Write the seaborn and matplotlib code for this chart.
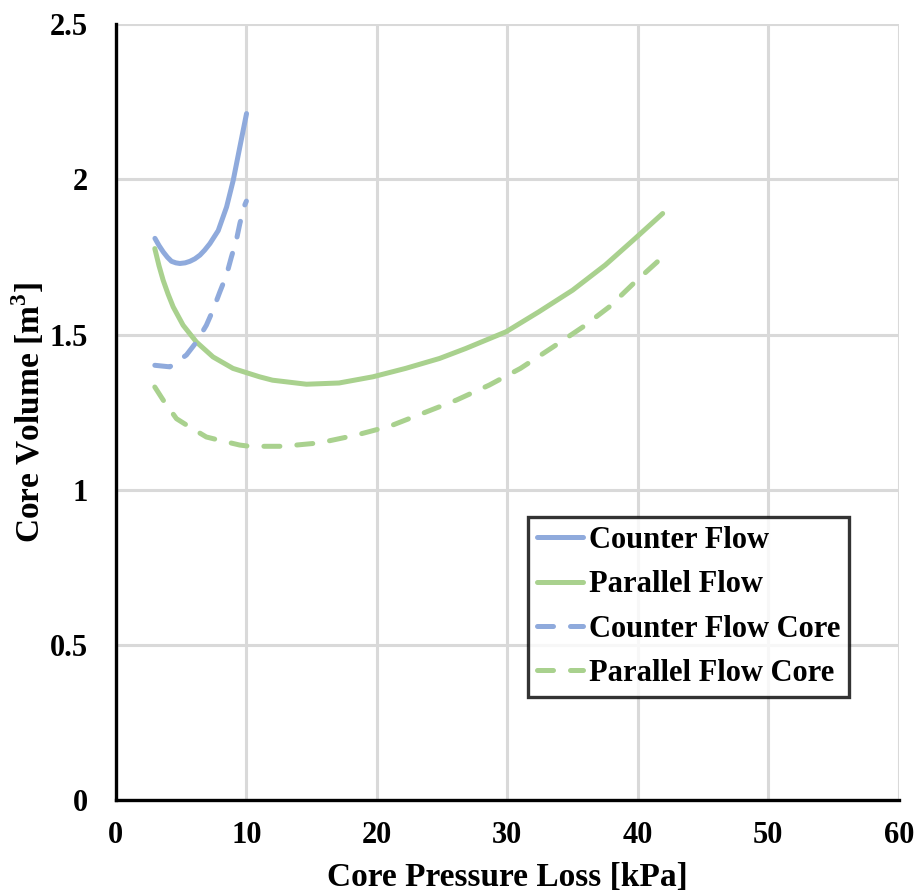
import matplotlib
matplotlib.use("Agg")
import matplotlib.pyplot as plt
import seaborn as sns
import pandas as pd

# Data
cf_x = [2.99, 3.30, 3.63, 3.95, 4.26, 4.60, 4.90, 5.30, 5.67, 6.05, 6.44, 6.80, 7.20, 7.84, 8.48, 8.99, 9.50, 10.01]
cf_y = [1.810, 1.787, 1.766, 1.749, 1.736, 1.731, 1.729, 1.731, 1.736, 1.744, 1.756, 1.772, 1.793, 1.835, 1.911, 1.997, 2.105, 2.212]

pf_x = [2.98, 3.30, 3.62, 4.00, 4.39, 5.15, 6.17, 7.44, 8.97, 11.0, 12.0, 14.6, 17.1, 19.7, 22.2,
        24.8, 26.8, 29.9, 32.4, 35.0, 37.5, 39.8, 41.9]
pf_y = [1.777, 1.722, 1.675, 1.630, 1.589, 1.530, 1.476, 1.428, 1.391, 1.364, 1.353, 1.340, 1.344, 1.364, 1.391,
        1.423, 1.455, 1.509, 1.573, 1.643, 1.724, 1.810, 1.890]

cfc_x = [2.98, 4.13, 5.40, 6.17, 6.93, 7.44, 7.96, 8.47, 8.85, 9.23, 9.50, 9.87, 10.0]
cfc_y = [1.401, 1.396, 1.434, 1.476, 1.530, 1.579, 1.637, 1.691, 1.750, 1.804, 1.858, 1.917, 1.93]

pfc_x = [2.98, 3.62, 4.64, 5.66, 6.93, 8.08, 9.49, 10.25, 12.8, 15.6, 18.4, 21.0, 23.8,
         26.1, 28.6, 31.0, 33.5, 35.8, 37.8, 39.8, 41.9]
pfc_y = [1.331, 1.289, 1.229, 1.202, 1.170, 1.158, 1.144, 1.140, 1.140, 1.151, 1.176, 1.205, 1.251,
         1.289, 1.337, 1.391, 1.460, 1.525, 1.589, 1.670, 1.750]

series_names = ["Counter Flow", "Parallel Flow", "Counter Flow Core", "Parallel Flow Core"]

x_ticks = [0, 10, 20, 30, 40, 50, 60]
y_ticks = [0, 0.5, 1, 1.5, 2, 2.5]
y_tick_labels = ["0", "0.5", "1", "1.5", "2", "2.5"]

frames = []
for name, xs, ys in zip(series_names, [cf_x, pf_x, cfc_x, pfc_x], [cf_y, pf_y, cfc_y, pfc_y]):
    frames.append(pd.DataFrame({"x": xs, "y": ys, "series": name}))
df = pd.concat(frames, ignore_index=True)

sns.set_style("white")
plt.rcParams['font.family'] = ['Liberation Serif', 'DejaVu Serif']
plt.rcParams['font.weight'] = 'bold'
plt.rcParams['text.color'] = 'black'
plt.rcParams['axes.labelcolor'] = 'black'
plt.rcParams['xtick.color'] = 'black'
plt.rcParams['ytick.color'] = 'black'
plt.rcParams['mathtext.fontset'] = 'custom'
plt.rcParams['mathtext.bf'] = 'Liberation Serif:bold'
plt.rcParams['mathtext.rm'] = 'Liberation Serif:bold'

blue = "#8faadc"
green = "#a9d18e"
palette = {"Counter Flow": blue, "Parallel Flow": green,
           "Counter Flow Core": blue, "Parallel Flow Core": green}
dashes = {"Counter Flow": "", "Parallel Flow": "",
          "Counter Flow Core": (3.2, 3.4), "Parallel Flow Core": (3.2, 3.4)}

fig = plt.figure(figsize=(9.2, 8.96), dpi=100)
ax = fig.add_axes([0.126, 0.107, 0.851, 0.866])

sns.lineplot(data=df, x="x", y="y", hue="series", style="series",
             palette=palette, dashes=dashes, hue_order=series_names,
             style_order=series_names, linewidth=3.6, ax=ax, sort=False,
             estimator=None)
for ln in ax.get_lines():
    ln.set_solid_capstyle("round")
    ln.set_dash_capstyle("round")
    ln.set_solid_joinstyle("round")
    ln.set_dash_joinstyle("round")

ax.set_xlim(0, 60)
ax.set_ylim(0, 2.5)
ax.set_xticks(x_ticks)
ax.set_yticks(y_ticks)
ax.set_yticklabels(y_tick_labels)
ax.grid(True, color="#d9d9d9", linewidth=2.2)
ax.set_axisbelow(True)
for s in ["top", "right"]:
    ax.spines[s].set_visible(False)
for s in ["left", "bottom"]:
    ax.spines[s].set_color("black")
    ax.spines[s].set_linewidth(2.4)
ax.tick_params(axis="both", direction="in", length=7, width=2.2, colors="black",
               labelsize=22)
ax.tick_params(axis="x", pad=15)
ax.tick_params(axis="y", pad=20)
for lab in ax.get_xticklabels() + ax.get_yticklabels():
    lab.set_fontweight("bold")

ax.set_xlabel("Core Pressure Loss [kPa]", fontsize=24, fontweight="bold", labelpad=9)
ax.set_ylabel("Core Volume [m$^{\\mathbf{3}}$]", fontsize=24, fontweight="bold", labelpad=2)

leg = ax.legend(loc="upper left", bbox_to_anchor=(0.526, 0.365), fontsize=22,
                frameon=True, fancybox=False, handlelength=1.5, borderpad=0.3,
                labelspacing=0.5, handletextpad=0.2, borderaxespad=0)
leg.get_frame().set_edgecolor("black")
leg.get_frame().set_linewidth(2.4)
for t in leg.get_texts():
    t.set_fontweight("bold")

fig.savefig("out.png", dpi=100)
